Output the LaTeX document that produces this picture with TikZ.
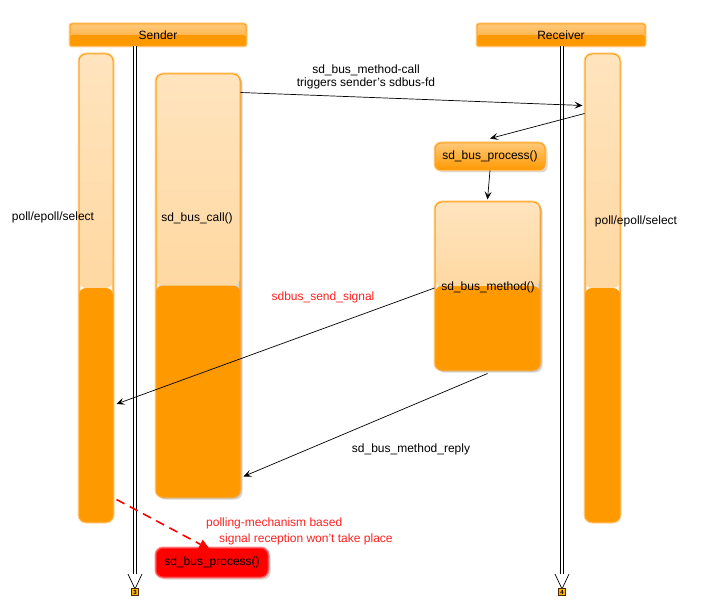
\documentclass[tikz,border=0pt]{standalone}
\usepackage{fontspec}
\setmainfont{Liberation Sans}
\usetikzlibrary{arrows.meta,shadows,calc}
\definecolor{org}{HTML}{FF9900}
\definecolor{orgline}{HTML}{FFA01A}
\definecolor{orgglow}{HTML}{FFD699}
\definecolor{peachA}{HTML}{FFE4BE}
\definecolor{peachB}{HTML}{FFCC85}
\definecolor{hdrA}{HTML}{FFC878}
\definecolor{hdrB}{HTML}{FFA833}
\definecolor{redtxt}{HTML}{FF2020}
\tikzset{
  every node/.style={font=\fontsize{12}{15}\selectfont},
  twotone/.style n args={3}{
    preaction={draw=orgglow, line width=3pt},
    draw=orgline, line width=1pt, rounded corners=#1,
    path picture={
      \shade[top color=#2, bottom color=#3]
        (path picture bounding box.north west) rectangle (path picture bounding box.east);
      \fill[org] (path picture bounding box.west) rectangle (path picture bounding box.south east);
    }},
  hdr/.style={twotone={2pt}{hdrA}{hdrB}, minimum height=22pt, inner sep=0pt},
  actbar/.style={twotone={7pt}{peachA}{peachB}, inner sep=0pt},
  shad/.style={general shadow={fill=black, opacity=0.15, shadow xshift=2.5pt, shadow yshift=-2.5pt}},
  procbox/.style={shad, preaction={draw=orgglow, line width=3pt}, draw=orgline, line width=1pt,
    rounded corners=6pt, top color=#1, bottom color=org, inner sep=0pt},
  redbox/.style={shad, preaction={draw=red!45, line width=3pt}, draw=red!75, line width=1pt,
    rounded corners=7pt, fill=red, inner sep=0pt},
  msg/.style={draw=black, line width=0.7pt, -{Stealth[length=8pt,width=7pt,inset=3.5pt]}},
  lifeline/.style={draw=black, double=white, double distance=2.6pt, line width=0.7pt},
  endtip/.style={draw=black, line width=0.7pt, fill=white},
  marker/.style={draw=black!70!orange, fill=orange!60!yellow, minimum size=7pt, inner sep=0pt,
    font=\fontsize{6}{6}\selectfont\bfseries},
  lbl/.style={inner sep=1pt, align=center},
  redlbl/.style={lbl, text=redtxt}
}
\begin{document}
\begin{tikzpicture}[x=1pt,y=-1pt]
\useasboundingbox (0,0) rectangle (701,612);

% lifeline end coordinates
\coordinate (sEnd) at (135,584);
\coordinate (rEnd) at (562,584);

% headers
\node[hdr, minimum width=176pt] (sender) at (158,35) {Sender};
\node[hdr, minimum width=168pt] (receiver) at (561,35) {Receiver};

% lifelines
\draw[lifeline] (sEnd |- sender.south) -- (sEnd);
\draw[lifeline] (rEnd |- receiver.south) -- (rEnd);
\draw[endtip] (128,574) -- (135,589) -- (142,574);
\draw[endtip] (555,574) -- (562,589) -- (569,574);
\node[marker] (m3) at (135,592) {3};
\node[marker] (m4) at (562,592) {4};

% activation bars
\node[actbar, minimum width=34pt, minimum height=468pt] (lbar) at (96,288) {};
\node[actbar, minimum width=35pt, minimum height=468pt] (rbar) at (602.5,288) {};
\node[actbar, shad, minimum width=84pt, minimum height=423pt] (call) at (198,285.5) {};
\node[actbar, shad, minimum width=105pt, minimum height=168pt] (method) at (487.5,286) {};

\node[lbl] (lbltxt) at (53,217) {poll/epoll/select};
\node[lbl] (rbltxt) at (636,221) {poll/epoll/select};
\node[lbl] (calltxt) at (197,218) {sd\_bus\_call()};
\node[lbl] (methodtxt) at (488,287) {sd\_bus\_method()};

% process boxes
\node[procbox=hdrA, minimum width=110pt, minimum height=27pt] (proc) at (490,156.5) {sd\_bus\_process()};
\node[redbox, minimum width=112pt, minimum height=29pt] (redproc) at (212,562.5) {sd\_bus\_process()};

% messages
\draw[msg] ([yshift=-19pt]call.north east) -- ([xshift=-2pt,yshift=-52pt]rbar.north west);
\node[lbl] (calllbl) at (366,76.5) {sd\_bus\_method-call\\[-2pt]triggers sender's sdbus-fd};
\draw[msg] ([yshift=-60pt]rbar.north west) -- ([yshift=4pt]proc.north);
\draw[msg] (proc.south) -- ([yshift=2pt]method.north);
\draw[msg] ([yshift=-2pt]method.west) -- ([xshift=3pt,yshift=-116pt]lbar.east);
\node[redlbl] (siglbl) at (323,297) {sdbus\_send\_signal};
\draw[msg] ([yshift=-3pt]method.south) -- ([xshift=3pt,yshift=21pt]call.south east);
\node[lbl] (replylbl) at (411,449) {sd\_bus\_method\_reply};

% red dashed
\draw[draw=red, line width=1.6pt, dash pattern=on 9pt off 6pt, -{Triangle[length=11pt,width=10pt]}]
  ([xshift=3pt,yshift=23pt]lbar.south east) -- ([xshift=-2pt,yshift=-2pt]redproc.north);
\node[redlbl, anchor=west] (poll1) at (205,523) {polling-mechanism based};
\node[redlbl, anchor=west] (poll2) at (218,539) {signal reception won't take place};
\end{tikzpicture}
\end{document}
